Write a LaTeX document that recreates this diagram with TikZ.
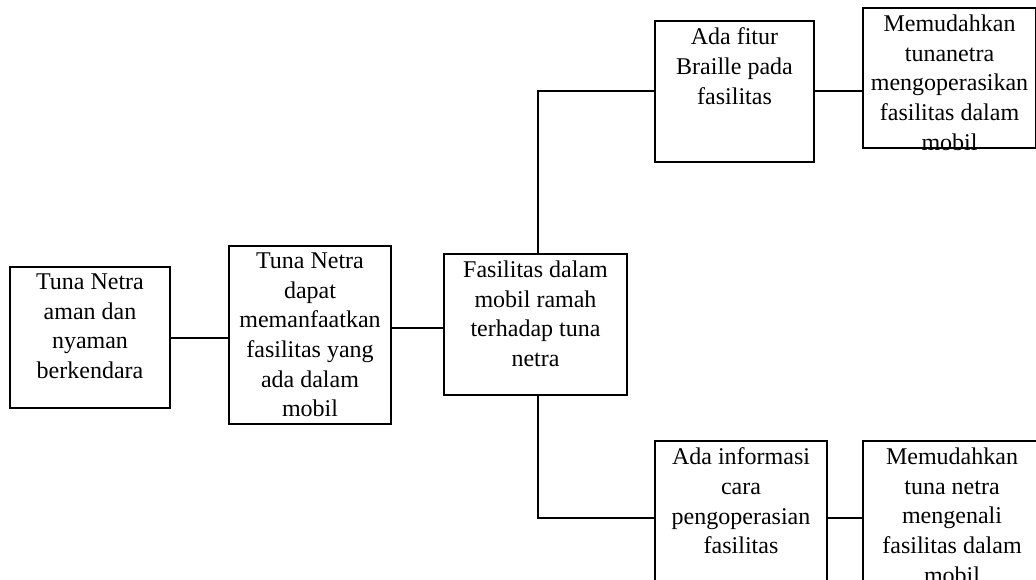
\documentclass[tikz,border=0pt]{standalone}
\usepackage{fontspec}
\setmainfont{Liberation Serif}
\usepackage{tikz}

\tikzset{
  kotak/.style={draw, line width=1pt, inner sep=0pt, anchor=north west},
  garis/.style={line width=1pt},
}
% text box: width, height, text (text starts at the top)
\newcommand{\isikotak}[3]{\begin{minipage}[t][#2][t]{#1}\centering
  \fontsize{12}{14.8}\selectfont\vspace*{3.5pt}#3\end{minipage}}

\begin{document}
\begin{tikzpicture}[x=1pt, y=1pt]
  \useasboundingbox (0, 0) rectangle (518, 289.5);
  \clip (0, 0) rectangle (518, 289.5);

  % Left part
  \node[kotak] (aman) at (4.5, 156.5)
     {\isikotak{80pt}{70.5pt}{Tuna Netra\\aman dan\\nyaman\\berkendara}};
  \node[kotak] (manfaat) at (114, 167)
     {\isikotak{81pt}{89pt}{Tuna Netra\\dapat\\memanfaatkan\\fasilitas yang\\ada dalam\\mobil}};
  \node[kotak] (ramah) at (221.5, 163)
     {\isikotak{91.5pt}{70.5pt}{Fasilitas dalam\\mobil ramah\\terhadap tuna\\netra}};

  % Upper branch
  \node[kotak] (braille) at (327, 279.5)
     {\isikotak{79.5pt}{70.5pt}{Ada fitur\\Braille pada\\fasilitas}};
  \node[kotak] (operasi) at (431, 286)
     {\isikotak{86.5pt}{70pt}{Memudahkan\\tunanetra\\mengoperasikan\\fasilitas dalam\\mobil}};

  % Lower branch
  \node[kotak] (info) at (327, 69.5)
     {\isikotak{86pt}{77pt}{Ada informasi\\cara\\pengoperasian\\fasilitas}};
  \node[kotak] (kenal) at (431, 69.5)
     {\isikotak{89pt}{77pt}{Memudahkan\\tuna netra\\mengenali\\fasilitas dalam\\mobil}};

  % Connectors
  \draw[garis] (aman.east) -- (aman.east -| manfaat.west);
  \draw[garis] ([yshift=-1.5pt]ramah.west) -- ([yshift=-1.5pt]ramah.west -| manfaat.east);
  \draw[garis] ([xshift=1pt]ramah.north) |- (braille.west);
  \draw[garis] (braille.east) -- (braille.east -| operasi.west);
  \draw[garis] ([xshift=1pt]ramah.south) |- (info.west);
  \draw[garis] (info.east) -- (info.east -| kenal.west);
\end{tikzpicture}
\end{document}
